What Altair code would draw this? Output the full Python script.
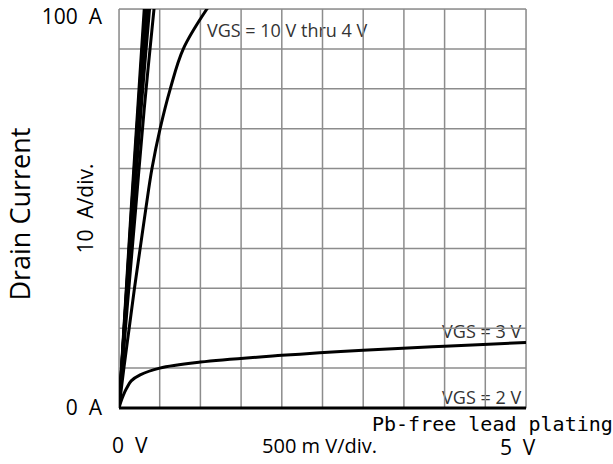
import altair as alt
import pandas as pd

NB = "\u00a0"

# ---- data ----
# bundle of steep curves, VGS = 10 V ... 5 V  (drain current in A, drain voltage in V)
id_bundle = [0, 25, 50, 75, 100, 110]
vds_10v = [0, 0.075, 0.15, 0.23, 0.31, 0.345]
vds_9v = [0, 0.078, 0.155, 0.237, 0.32, 0.355]
vds_8v = [0, 0.08, 0.16, 0.245, 0.335, 0.37]
vds_7v = [0, 0.083, 0.168, 0.255, 0.35, 0.39]
vds_6v = [0, 0.09, 0.18, 0.272, 0.375, 0.42]
vds_5v = [0, 0.1, 0.205, 0.31, 0.43, 0.48]

# VGS = 4 V curve
id_4v = [0, 10, 20, 30, 40, 50, 60, 70, 80, 90, 100, 106]
vds_4v = [0, 0.06, 0.125, 0.19, 0.26, 0.33, 0.405, 0.505, 0.63, 0.79, 1.08, 1.3]

# VGS = 3 V curve
vds_3v = [0, 0.02, 0.055, 0.095, 0.15, 0.26, 0.5, 1.0, 2.0, 3.0, 4.0, 5.0]
id_3v = [0, 1.4, 3.3, 5.0, 6.8, 8.3, 10.0, 11.5, 13.2, 14.5, 15.5, 16.4]

# VGS = 2 V curve
vds_2v = [0, 5]
id_2v = [0, 0]

grid_v = [0, 0.5, 1, 1.5, 2, 2.5, 3, 3.5, 4, 4.5, 5]
grid_a = [0, 10, 20, 30, 40, 50, 60, 70, 80, 90, 100]

# ---- build tables ----
rows = []
for name, xs_, ys_ in [("10", vds_10v, id_bundle), ("9", vds_9v, id_bundle),
                       ("8", vds_8v, id_bundle), ("7", vds_7v, id_bundle),
                       ("6", vds_6v, id_bundle), ("5", vds_5v, id_bundle),
                       ("4", vds_4v, id_4v), ("3", vds_3v, id_3v)]:
    for j, (v, i) in enumerate(zip(xs_, ys_)):
        rows.append({"s": name, "v": v, "i": i, "o": j})
curves = pd.DataFrame(rows)
low = pd.DataFrame({"v": vds_2v, "i": id_2v})

xs = alt.Scale(domain=[0, 5], nice=False, zero=False)
ys = alt.Scale(domain=[0, 100], nice=False, zero=False)

vgrid = alt.Chart(pd.DataFrame({"v": grid_v})).mark_rule(
    color="#8c8c8c", strokeWidth=1.5).encode(
    x=alt.X("v:Q", scale=xs, axis=None))
hgrid = alt.Chart(pd.DataFrame({"i": grid_a})).mark_rule(
    color="#8c8c8c", strokeWidth=1.5).encode(
    y=alt.Y("i:Q", scale=ys, axis=None))

lines = alt.Chart(curves).mark_line(
    color="black", strokeWidth=3, clip=True, interpolate="catmull-rom").encode(
    x=alt.X("v:Q", scale=xs, axis=None),
    y=alt.Y("i:Q", scale=ys, axis=None),
    order="o:Q",
    detail="s:N")
lowline = alt.Chart(low).mark_line(color="black", strokeWidth=3).encode(
    x=alt.X("v:Q", scale=xs, axis=None),
    y=alt.Y("i:Q", scale=ys, axis=None))


def label(text, x, y, align="left", baseline="alphabetic", font="Open Sans",
          size=21, color="black", angle=0):
    return alt.Chart(pd.DataFrame({"t": [text], "x": [x], "y": [y]})).mark_text(
        align=align, baseline=baseline, font=font, fontSize=size, color=color,
        angle=angle, clip=False).encode(
        x=alt.X("x:Q", scale=xs, axis=None),
        y=alt.Y("y:Q", scale=ys, axis=None),
        text="t:N")


inner = [
    label("VGS = 10 V thru 4 V", 1.081, 93.0, size=18, color="#333333"),
    label("VGS = 3 V", 4.94, 17.5, align="right", size=18, color="#333333"),
    label("VGS = 2 V", 4.94, 1.0, align="right", size=18, color="#333333"),
]
outer = [
    label("100" + NB + NB + "A", -0.209, 96.2, align="right"),
    label("0" + NB + NB + "A", -0.209, -1.75, align="right"),
    label("0" + NB + NB + "V", -0.086, -11.3),
    label("500 m V/div.", 1.757, -11.3, size=20),
    label("5" + NB + NB + "V", 4.68, -11.7),
    label("Pb-free lead plating", 3.108, -5.8, font="DejaVu Sans Mono", size=20),
    label("Drain Current", -1.19, 48.6, align="center", baseline="middle",
          size=27, angle=270),
    label("10" + NB + NB + "A/div.", -0.393, 50.0, align="center",
          baseline="middle", size=21, angle=270),
]

chart = alt.layer(*inner, vgrid, hgrid, lines, lowline, *outer).properties(
    width=407, height=399,
    autosize=alt.AutoSizeParams(type="none"),
    padding={"left": 119, "top": 9, "right": 87, "bottom": 56},
).configure_view(stroke=None).configure(background="white")

chart.save("out.html", embed_options={"renderer": "svg", "actions": False})
